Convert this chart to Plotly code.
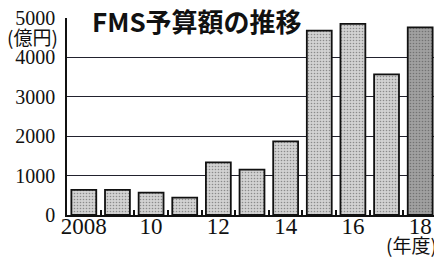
import plotly.graph_objects as go

years = [2008, 2009, 2010, 2011, 2012, 2013, 2014, 2015, 2016, 2017, 2018]
budget = [640, 640, 570, 440, 1335, 1150, 1870, 4680, 4850, 3570, 4760]
xtick_vals = [2008, 2010, 2012, 2014, 2016, 2018]
xtick_text = ["2008", "10", "12", "14", "16", "18"]
ytick_vals = [0, 1000, 2000, 3000, 4000, 5000]
grid_vals = [1000, 2000, 3000, 4000]
boundaries = [y + 0.5 for y in years[:-1]]

bg_colors = ["#d2d2d2"] * 10 + ["#a0a0a0"]
fg_colors = ["#676767"] * 10 + ["#3a3a3a"]

fig = go.Figure()
fig.add_trace(go.Bar(
    x=years, y=budget, width=0.74,
    marker=dict(
        color=bg_colors,
        line=dict(color="#111111", width=1.8),
        pattern=dict(shape=".", fgcolor=fg_colors, bgcolor=bg_colors,
                     size=3, solidity=0.22),
    ),
    hoverinfo="skip",
))
# invisible helper trace so the label axis (x2) is drawn
fig.add_trace(go.Scatter(
    x=[years[0]], y=[None], xaxis="x2", yaxis="y",
    mode="markers", marker=dict(opacity=0), hoverinfo="skip", showlegend=False,
))

fig.update_layout(
    width=434, height=249,
    margin=dict(l=59, r=5, t=10, b=42),
    paper_bgcolor="white", plot_bgcolor="white",
    showlegend=False,
    font=dict(family="Liberation Serif", color="#111111"),
    xaxis=dict(
        range=[2007.5, 2018.5],
        showticklabels=False, ticks="", showgrid=False,
        showline=True, linecolor="#111111", linewidth=2,
        minor=dict(tickmode="array", tickvals=boundaries, ticks="inside",
                   ticklen=5, tickwidth=1.5, tickcolor="#111111", showgrid=False),
        zeroline=False, automargin=False,
    ),
    xaxis2=dict(
        overlaying="x", matches="x", anchor="free", position=0.025, side="bottom",
        range=[2007.5, 2018.5],
        tickmode="array", tickvals=xtick_vals, ticktext=xtick_text,
        ticks="", showgrid=False, showline=False, zeroline=False,
        tickfont=dict(size=23, family="Liberation Serif", color="#111111"),
        ticklabeloverflow="allow",
        automargin=False,
    ),
    yaxis=dict(
        range=[0, 5000],
        tickmode="array", tickvals=ytick_vals,
        ticks="", showgrid=False,
        tickfont=dict(size=20, family="Liberation Serif"),
        ticklabelstandoff=6,
        ticklabeloverflow="allow",
        showline=True, linecolor="#111111", linewidth=1.5,
        minor=dict(tickmode="array", tickvals=grid_vals, showgrid=True,
                   gridcolor="#22222e", gridwidth=1.3, ticks=""),
        zeroline=False, automargin=False,
    ),
    annotations=[
        dict(text="<b>FMS予算額の推移</b>", xref="paper", yref="paper",
             x=0.062, y=0.985, xanchor="left", yanchor="middle", showarrow=False,
             font=dict(family="Noto Sans CJK JP", size=26, color="#111111")),
        dict(text="(億円)", xref="paper", yref="paper",
             x=-0.092, y=0.905, xanchor="center", yanchor="middle", showarrow=False,
             font=dict(family="Noto Sans CJK JP", size=19, color="#111111")),
        dict(text="(年度)", xref="paper", yref="paper",
             x=0.932, y=-0.15, xanchor="center", yanchor="middle", showarrow=False,
             font=dict(family="Noto Sans CJK JP", size=19, color="#111111")),
    ],
)

fig.write_html("out.html")
